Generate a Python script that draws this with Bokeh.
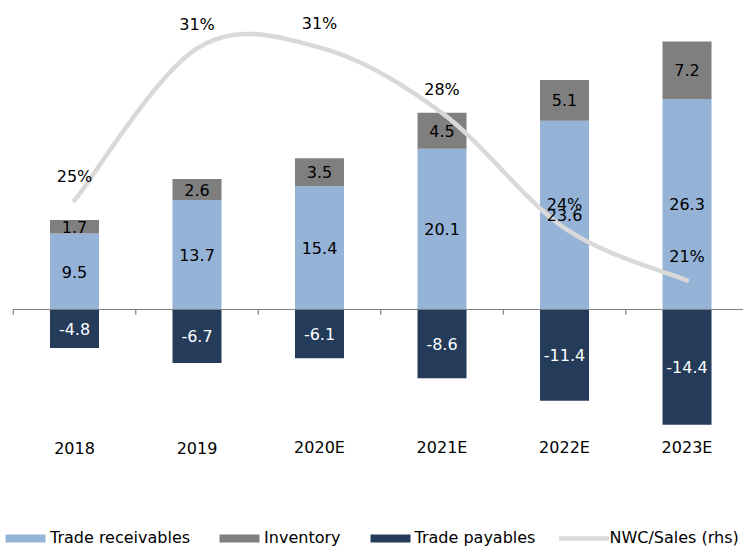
import numpy as np
from bokeh.plotting import figure
from bokeh.models import Range1d, Legend, LegendItem, ColumnDataSource
from bokeh.core.properties import value
from bokeh.embed import file_html
from bokeh.resources import INLINE

# ---- data ----
years = ["2018", "2019", "2020E", "2021E", "2022E", "2023E"]
receivables = [9.5, 13.7, 15.4, 20.1, 23.6, 26.3]
inventory = [1.7, 2.6, 3.5, 4.5, 5.1, 7.2]
payables = [-4.8, -6.7, -6.1, -8.6, -11.4, -14.4]
nwc_sales = [24.65, 30.73, 30.77, 28.15, 23.55, 21.45]  # % (rhs)

# ---- styles ----
C_REC = "#95B3D7"
C_INV = "#7F7F7F"
C_PAY = "#243B5A"
C_LINE = "#D9D9D9"
FONT = "DejaVu Sans"
FS = "16px"
CAT_LABEL_OFFSET = 138   # px below the zero line for category labels

n = len(years)
xs = np.arange(n, dtype=float)
rec = np.array(receivables)
inv = np.array(inventory)
pay = np.array(payables)
pct = np.array(nwc_sales)

src = ColumnDataSource(dict(
    x=xs, rec=rec, inv=inv, pay=pay, zero=np.zeros(n), cat=years,
    rec_mid=rec / 2, inv_mid=rec + inv / 2, pay_mid=pay / 2,
    rec_lbl=[f"{v:.1f}" for v in rec],
    inv_lbl=[f"{v:.1f}" for v in inv],
    pay_lbl=[f"{v:.1f}" for v in pay],
    pct=pct, pct_lbl=[f"{round(v):.0f}%" for v in pct],
))

p = figure(frame_width=743, frame_height=547,
           x_range=Range1d(-0.604, n - 0.539), y_range=Range1d(-29.75, 38.625),
           x_axis_location=None, y_axis_location=None,
           output_backend="svg", toolbar_location=None,
           min_border_left=0, min_border_right=0, min_border_top=0,
           min_border_bottom=0)
p.extra_y_ranges = {"pct": Range1d(10.77, 32.65)}
p.grid.visible = False
p.outline_line_color = None
p.background_fill_color = "white"
p.border_fill_color = "white"

# bars
bw = 0.4
r_rec, r_inv = p.vbar_stack(["rec", "inv"], x="x", width=bw, source=src,
                            color=[C_REC, C_INV], line_color=None)
r_pay = p.vbar(x="x", top="pay", bottom=0, width=bw, source=src,
               fill_color=C_PAY, line_color=None)

# zero line and category boundary ticks
bounds = np.arange(n + 1) - 0.5
p.segment(x0=[bounds[0]], x1=[bounds[-1]], y0=[0], y1=[0],
          line_color="#808080", line_width=1.2)
p.segment(x0=bounds, x1=bounds, y0=np.zeros(n + 1), y1=np.full(n + 1, -0.65),
          line_color="#808080", line_width=1.2)

# smoothed NWC/Sales line (Catmull-Rom rendering of the six points)
def smooth(xv, yv, steps=40):
    P = np.column_stack([xv, yv])
    ext = np.vstack([P[0], P, P[-1]])
    out = []
    for i in range(len(P) - 1):
        p0, p1, p2, p3 = ext[i], ext[i + 1], ext[i + 2], ext[i + 3]
        m1 = (p2 - p0) / 2
        m2 = (p3 - p1) / 2
        t = np.linspace(0, 1, steps)[:, None]
        h00 = 2 * t**3 - 3 * t**2 + 1
        h10 = t**3 - 2 * t**2 + t
        h01 = -2 * t**3 + 3 * t**2
        h11 = t**3 - t**2
        seg = h00 * p1 + h10 * m1 + h01 * p2 + h11 * m2
        out.append(seg if i == 0 else seg[1:])
    c = np.vstack(out)
    return c[:, 0], c[:, 1]

sx, sy = smooth(xs, pct)
r_line = p.line(sx, sy, y_range_name="pct", line_color=C_LINE, line_width=4.5,
                line_cap="round", line_join="round")

# labels
common = dict(source=src, text_align="center", text_baseline="middle",
              text_font=value(FONT), text_font_size=value(FS))
p.text(x="x", y="rec_mid", text="rec_lbl", text_color="#000000", **common)
p.text(x="x", y="inv_mid", text="inv_lbl", text_color="#000000", **common)
p.text(x="x", y="pay_mid", text="pay_lbl", text_color="#FFFFFF", **common)
p.text(x="x", y="pct", text="pct_lbl", text_color="#000000", y_range_name="pct",
       y_offset=-24, **common)
# category labels under the chart
p.text(x="x", y="zero", text="cat", text_color="#000000",
       y_offset=CAT_LABEL_OFFSET, **common)

# legend
legend = Legend(items=[
    LegendItem(label="Trade receivables", renderers=[r_rec]),
    LegendItem(label="Inventory", renderers=[r_inv]),
    LegendItem(label="Trade payables", renderers=[r_pay]),
    LegendItem(label="NWC/Sales (rhs)", renderers=[r_line]),
], location=(0, 0), orientation="horizontal",
    glyph_width=50, glyph_height=10, label_standoff=0, spacing=24,
    padding=0, margin=0, border_line_color=None, background_fill_alpha=0,
    label_text_font=FONT, label_text_font_size=FS, label_text_color="#000000")
p.add_layout(legend)

open("out.html", "w").write(file_html(p, INLINE))
